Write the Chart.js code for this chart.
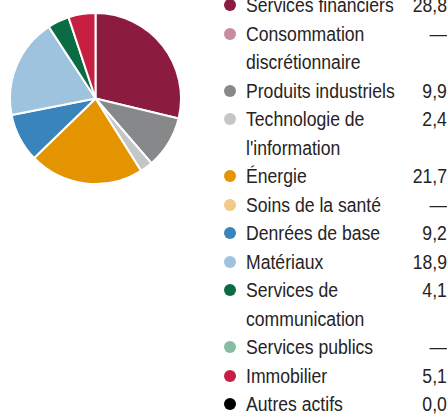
<!DOCTYPE html>
<html lang="fr">
<head>
<meta charset="utf-8">
<script src="https://cdn.jsdelivr.net/npm/chart.js@4"></script>
<style>
  html, body { margin: 0; padding: 0; background: #fff; }
  body { width: 448px; height: 414px; position: relative; overflow: hidden; }
  #pieBox { position: absolute; left: 9px; top: 12px; width: 173px; height: 173px; }
  #legend {
    position: absolute; left: 222px; top: -9px; width: 226px;
    font-family: "Liberation Sans", Arial, sans-serif;
    font-size: 20px; line-height: 28.5px; color: #262324;
  }
  .row { position: relative; padding-left: 24px; }
  .dot { position: absolute; left: 1.5px; top: 8.25px; width: 12px; height: 12px; border-radius: 50%; }
  /* condensed look: no narrow font installed, so squeeze horizontally */
  .lab { display: inline-block; white-space: nowrap; transform: scaleX(0.88); transform-origin: 0 0; }
  .val { position: absolute; right: 1px; top: 0; white-space: nowrap; transform: scaleX(0.88); transform-origin: 100% 0; }
</style>
</head>
<body>
<div id="pieBox"><canvas id="pie"></canvas></div>
<div id="legend"></div>
<script>
// secteurs, dans l'ordre de la légende
const sectors = [
  ['Services financiers'],
  ['Consommation', 'discrétionnaire'],
  ['Produits industriels'],
  ['Technologie de', "l'information"],
  ['Énergie'],
  ['Soins de la santé'],
  ['Denrées de base'],
  ['Matériaux'],
  ['Services de', 'communication'],
  ['Services publics'],
  ['Immobilier'],
  ['Autres actifs']
]
// pourcentages (null = —)
const weights = [28.8, null, 9.9, 2.4, 21.7, null, 9.2, 18.9, 4.1, null, 5.1, 0.0]
const colors = [
  '#8b1c40', '#c98c9f', '#87888a', '#c5c6c8', '#e39400', '#f2c987',
  '#3984bb', '#9ec3de', '#0b6c44', '#86bba4', '#c61f41', '#000000'
]

const fmt = v => v === null ? '—' : v.toFixed(1).replace('.', ',')

// legend
const legend = document.getElementById('legend')
sectors.forEach((lines, i) => {
  const row = document.createElement('div')
  row.className = 'row'
  row.innerHTML = `<span class="dot" style="background:${colors[i]}"></span>` +
    `<span class="lab">${lines.join('<br>')}</span>` +
    `<span class="val">${fmt(weights[i])}</span>`
  legend.appendChild(row)
})

new Chart(document.getElementById('pie'), {
  type: 'pie',
  data: {
    labels: sectors.map(l => l.join(' ')),
    datasets: [{
      data: weights.map(v => v === null ? 0 : v),
      backgroundColor: colors,
      borderColor: '#ffffff',
      borderWidth: 2
    }]
  },
  options: {
    responsive: true,
    maintainAspectRatio: false,
    animation: false,
    layout: { padding: 0 },
    plugins: {
      legend: { display: false },
      tooltip: { enabled: false }
    }
  }
})
</script>
</body>
</html>
